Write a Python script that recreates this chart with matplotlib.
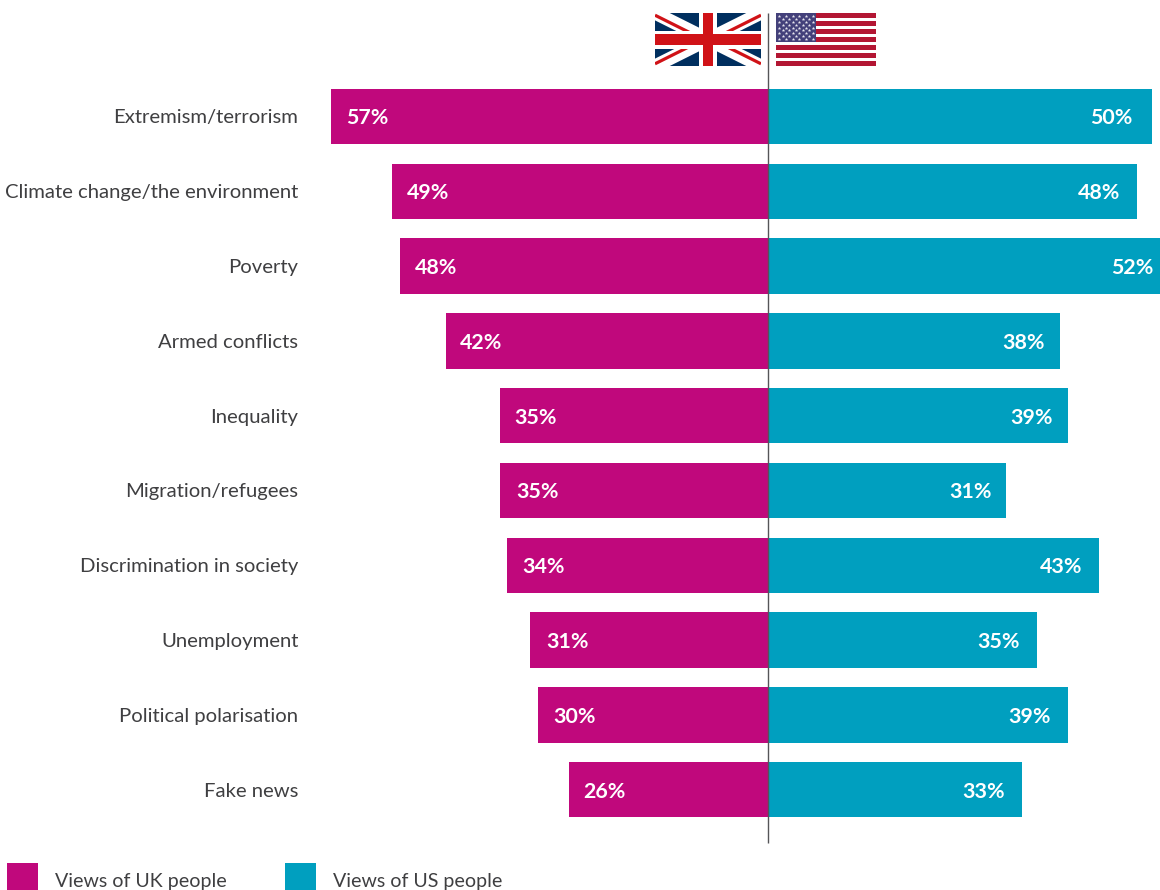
import matplotlib
matplotlib.use("Agg")
import matplotlib.pyplot as plt
from matplotlib.patches import Rectangle
import numpy as np

# Survey results: share of respondents naming each issue
issues = ["Extremism/terrorism", "Climate change/the environment", "Poverty",
          "Armed conflicts", "Inequality", "Migration/refugees",
          "Discrimination in society", "Unemployment",
          "Political polarisation", "Fake news"]
uk_values = [57, 49, 48, 42, 35, 35, 34, 31, 30, 26]
us_values = [50, 48, 52, 38, 39, 31, 43, 35, 39, 33]
series_names = ["Views of UK people", "Views of US people"]

UK_COLOR = "#C0087C"
US_COLOR = "#009FBF"
TEXT_COLOR = "#3F3F41"
FONT = "Lato"

W, H = 1160, 890
fig = plt.figure(figsize=(W / 100, H / 100), dpi=100, facecolor="white")
ax = fig.add_axes([0, 0, 1, 1])

# Percent scale on x (centre spine at 0), row index on y
PX_PER_PCT = 7.68
ZERO_PX = 768.3
PITCH = 74.8
FIRST_ROW = 116.5
XMAX = (W - ZERO_PX) / PX_PER_PCT
ax.set_xlim(-ZERO_PX / PX_PER_PCT, XMAX)
ax.set_ylim((H - FIRST_ROW) / PITCH, -FIRST_ROW / PITCH)
ax.axis("off")

rows = np.arange(len(issues))
BAR_H = 55.5 / PITCH
ax.barh(rows, [-v for v in uk_values], height=BAR_H, color=UK_COLOR, linewidth=0)
ax.barh(rows, us_values, height=BAR_H, color=US_COLOR, linewidth=0)

# Value labels sit just inside the outer end of each bar
uk_pads = [16, 15, 15, 14, 15, 17, 15, 16, 15, 15]
us_pads = [20, 17, 13, 15, 15, 15, 16, 17, 17, 17]
for i in rows:
    ax.annotate(f"{uk_values[i]}%", (-uk_values[i], i), xytext=(uk_pads[i] * 0.72, -1.4),
                textcoords="offset points", ha="left", va="center",
                color="white", fontsize=15.4, fontweight="bold", family=FONT)
    ax.annotate(f"{us_values[i]}%", (min(us_values[i], XMAX), i),
                xytext=(-(us_pads[i] - (7 if us_values[i] > XMAX else 0)) * 0.72, -1.4),
                textcoords="offset points", ha="right", va="center",
                color="white", fontsize=15.4, fontweight="bold", family=FONT)
    ax.annotate(issues[i], (-ZERO_PX / PX_PER_PCT, i), xytext=(298.3 * 0.72, -1.0),
                textcoords="offset points", ha="right", va="center",
                color=TEXT_COLOR, fontsize=14.55, family=FONT)

# Overlay in pixel coordinates for the flags, centre line and key
ov = fig.add_axes([0, 0, 1, 1], facecolor="none")
ov.set_xlim(0, W)
ov.set_ylim(H, 0)
ov.axis("off")

ov.plot([768, 768], [13, 843], color="#555558", lw=1.0, solid_capstyle="butt", zorder=5)

# Union flag
ux0, ux1, uy0, uy1 = 655, 761, 13, 66
ucx, ucy = (ux0 + ux1) / 2, (uy0 + uy1) / 2
clip = Rectangle((ux0, uy0), ux1 - ux0, uy1 - uy0, transform=ov.transData)
ov.add_patch(Rectangle((ux0, uy0), ux1 - ux0, uy1 - uy0, color="#002F5F", lw=0, zorder=1))
for a, b in [((ux0, uy0), (ux1, uy1)), ((ux0, uy1), (ux1, uy0))]:
    ln, = ov.plot([a[0], b[0]], [a[1], b[1]], color="white", lw=9.5,
                  solid_capstyle="butt", zorder=1.1)
    ln.set_clip_path(clip)
for a, b, off in [((ux0, uy0), (ucx, ucy), 2.2), ((ucx, ucy), (ux1, uy1), -2.2),
                  ((ux0, uy1), (ucx, ucy), -2.2), ((ucx, ucy), (ux1, uy0), 2.2)]:
    ln, = ov.plot([a[0], b[0]], [a[1] + off, b[1] + off],
                  color="#D01217", lw=2.3, solid_capstyle="butt", zorder=1.2)
    ln.set_clip_path(clip)
ov.add_patch(Rectangle((ucx - 9, uy0), 18, uy1 - uy0, color="white", lw=0, zorder=1.3))
ov.add_patch(Rectangle((ux0, ucy - 9), ux1 - ux0, 18, color="white", lw=0, zorder=1.3))
ov.add_patch(Rectangle((ucx - 5.2, uy0), 10.4, uy1 - uy0, color="#D01217", lw=0, zorder=1.4))
ov.add_patch(Rectangle((ux0, ucy - 5.2), ux1 - ux0, 10.4, color="#D01217", lw=0, zorder=1.4))

# Stars and stripes: seven red bars over white
sx0, sx1, sy0, sy1 = 776, 876, 13, 66
for k in range(7):
    ov.add_patch(Rectangle((sx0, sy0 + k * 8), sx1 - sx0, 5, color="#B31633", lw=0))
ov.add_patch(Rectangle((sx0, sy0), 40, 29, color="#43407A", lw=0))
star_x, star_y = [], []
for r in range(9):
    cols = 6 if r % 2 == 0 else 5
    for c in range(cols):
        star_x.append(sx0 + 3.3 + c * 6.66 + (3.33 if r % 2 else 0))
        star_y.append(sy0 + 2.9 + r * 2.9)
ov.scatter(star_x, star_y, s=7, marker="*", color="#E8E6F0", linewidths=0)

# Key
for x0, color, tx, name in [(7, UK_COLOR, 55, series_names[0]), (285, US_COLOR, 333, series_names[1])]:
    ov.add_patch(Rectangle((x0, 863), 31, 27, color=color, lw=0))
    ov.text(tx, 886.5, name, ha="left", va="baseline", color=TEXT_COLOR,
            fontsize=14.1, family=FONT)

fig.savefig("out.png", dpi=100, facecolor="white")
